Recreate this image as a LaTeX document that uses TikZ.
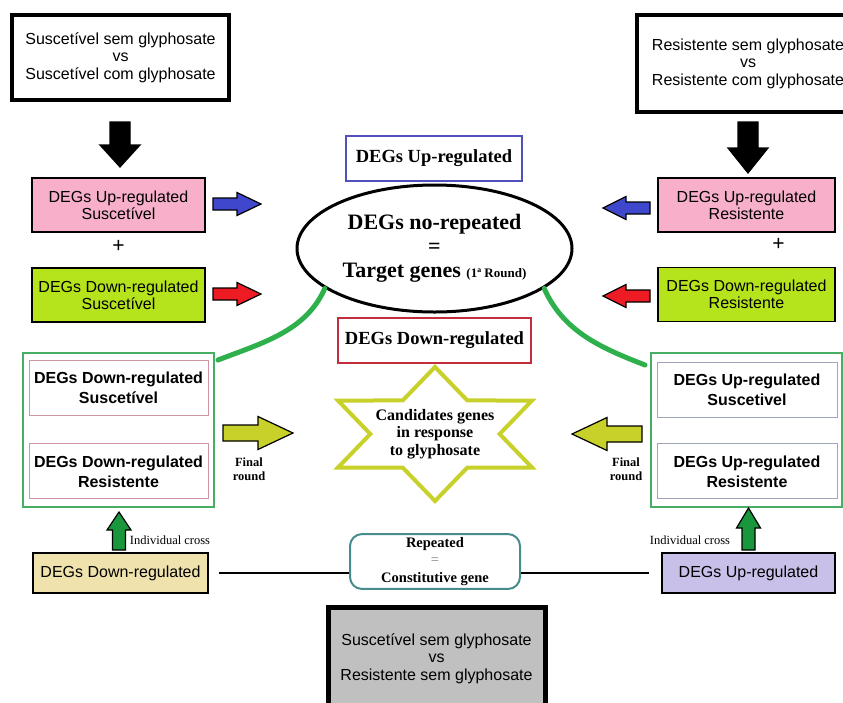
\documentclass[tikz,border=0pt]{standalone}
\usepackage{fontspec}
\setmainfont{Liberation Sans}
\newfontfamily\timesfont{Liberation Serif}
\usetikzlibrary{positioning,calc,shapes.geometric}
\definecolor{pinkfill}{RGB}{248,176,202}
\definecolor{limefill}{RGB}{181,228,29}
\definecolor{tanfill}{RGB}{239,226,172}
\definecolor{lilacfill}{RGB}{200,192,232}
\definecolor{grayfill}{RGB}{192,192,192}
\definecolor{arrowblue}{RGB}{63,72,204}
\definecolor{arrowred}{RGB}{237,28,36}
\definecolor{arrowolive}{RGB}{200,208,42}
\definecolor{arrowgreen}{RGB}{26,150,60}
\definecolor{curvegreen}{RGB}{46,176,76}
\definecolor{framegreen}{RGB}{70,175,100}
\definecolor{upblue}{RGB}{80,80,190}
\definecolor{downred}{RGB}{195,45,60}
\definecolor{tealline}{RGB}{70,140,140}
\definecolor{innerred}{RGB}{205,150,160}
\definecolor{innerblue}{RGB}{160,165,190}
% block arrow: style, tail, angle, shaft half, head half, head start, length
\newcommand{\blockarrow}[7]{%
  \filldraw[#1,shift={#2},rotate=#3] (0,-#4) -- (#6,-#4) -- (#6,-#5) -- (#7,0)
    -- (#6,#5) -- (#6,#4) -- (0,#4) -- cycle;}

\begin{document}
\begin{tikzpicture}[x=1pt,y=-1pt,
  cmpbox/.style={draw,line width=4pt,align=center,inner sep=0pt,font=\fontsize{16}{17.5}\selectfont},
  degbox/.style={draw,line width=1.6pt,align=center,inner sep=0pt,minimum width=173,minimum height=54,font=\fontsize{16}{16.8}\selectfont},
  inbox/.style={draw,line width=0.8pt,align=center,inner sep=0pt,minimum width=179,minimum height=55,font=\fontsize{16}{20}\selectfont\bfseries},
  selbox/.style={draw=framegreen,line width=2pt,minimum width=191,minimum height=154},
  tag/.style={draw,line width=1.5pt,inner sep=0pt,font=\fontsize{18.5}{20}\timesfont\bfseries},
  blockstyle/.style={draw=black,line width=1.2pt,line join=miter},
  note/.style={align=center,inner sep=0pt,font=\fontsize{12.5}{14}\timesfont},
  link/.style={line width=2pt},
  greencurve/.style={draw=curvegreen,line width=5pt,line cap=round}]
\useasboundingbox (0,0) rectangle (843,702);
\clip (0,0) rectangle (843,702);

% comparisons
\node[cmpbox,minimum width=217,minimum height=85] (topsus) at (120.5,57.5) {Suscetível sem glyphosate\\vs\\Suscetível com glyphosate};
\node[cmpbox,minimum width=222,minimum height=97] (topres) at (748,63.5) {Resistente sem glyphosate\\vs\\Resistente com glyphosate};
\node[cmpbox,line width=5pt,fill=grayfill,minimum width=217,minimum height=103] (cmpboth) at (436.5,658.5) {Suscetível sem glyphosate\\vs\\Resistente sem glyphosate};

% first round
\node[degbox,fill=pinkfill] (upsus) at (118.5,205) {DEGs Up-regulated\\Suscetível};
\node[degbox,fill=limefill] (downsus) at (118.5,295) {DEGs Down-regulated\\Suscetível};
\node[degbox,fill=pinkfill,minimum width=177] (upres) at (746.5,205) {DEGs Up-regulated\\Resistente};
\node[degbox,fill=limefill,minimum width=177] (downres) at (746.5,294.5) {DEGs Down-regulated\\Resistente};
\node[font=\fontsize{21}{21}\selectfont] (plussus) at ($(upsus.south)!0.4!(downsus.north)$) {+};
\node[font=\fontsize{21}{21}\selectfont,xshift=32] (plusres) at ($(upres.south)!0.35!(downres.north)$) {+};

\blockarrow{blockstyle,fill=black}{(120,122)}{-90}{10}{20}{23}{45}
\blockarrow{blockstyle,fill=black}{(748,122)}{-90}{10}{20}{26}{51}
\blockarrow{blockstyle,fill=arrowblue}{(213,204)}{0}{6}{11.5}{24}{48}
\blockarrow{blockstyle,fill=arrowred}{(213,294)}{0}{6}{11.5}{24}{48}
\blockarrow{blockstyle,fill=arrowblue}{(650,208)}{180}{6}{11.5}{24}{47}
\blockarrow{blockstyle,fill=arrowred}{(650,296)}{180}{6}{11.5}{24}{47}

% target genes
\node[tag,draw=upblue,minimum width=176,minimum height=45] (uplab) at (434,158.5) {DEGs Up-regulated};
\node[draw,ellipse,line width=3pt,minimum width=275,minimum height=127,inner sep=0pt,align=center,
  font=\fontsize{22}{24}\timesfont\bfseries] (ell) at (434.5,248.5)
  {DEGs no-repeated\\=\\Target genes {\fontsize{13}{15}\selectfont (1ª Round)}};
\node[tag,draw=downred,line width=2pt,minimum width=193,minimum height=45] (downlab) at (434.5,340.5) {DEGs Down-regulated};

% candidates
\draw[draw=arrowolive,line width=4pt,line join=miter,shift={(435,434)}] (90:112 and 67)
  \foreach \a in {150,210,...,450} {-- ({\a-30}:64.7 and 38.7) -- (\a:112 and 67)} -- cycle;
\node[align=center,inner sep=0pt,font=\fontsize{16}{17.5}\timesfont\bfseries] (cand) at (435,434) {Candidates genes\\in response\\to glyphosate};

% final round
\node[selbox] (selsus) at (118.5,430) {};
\node[inbox,draw=innerred] (insus1) at (118.5,387.5) {DEGs Down-regulated\\Suscetível};
\node[inbox,draw=innerred,below=28pt of insus1] (insus2) {DEGs Down-regulated\\Resistente};
\node[selbox] (selres) at (746.5,430) {};
\node[inbox,draw=innerblue,minimum width=180] (inres1) at (747,389.5) {DEGs Up-regulated\\Suscetivel};
\node[inbox,draw=innerblue,minimum width=180,below=26pt of inres1] (inres2) {DEGs Up-regulated\\Resistente};

\draw[greencurve] (ell.200) .. controls +(-19,43) and +(44,-17) .. ($(selsus.north east)+(3,8)$);
\draw[greencurve] (ell.-20) .. controls +(19,43) and +(-44,-17) .. ($(selres.north west)+(-5,13)$);

\blockarrow{blockstyle,fill=arrowolive}{(223,433)}{0}{8}{16.5}{35}{70}
\blockarrow{blockstyle,fill=arrowolive}{(642,434)}{180}{8}{16.5}{35}{70}
\node[note,font=\fontsize{12.5}{14}\timesfont\bfseries] (finsus) at (249,469) {Final\\round};
\node[note,font=\fontsize{12.5}{14}\timesfont\bfseries] (finres) at (626,469) {Final\\round};

% individual cross
\node[degbox,fill=tanfill,minimum width=175,minimum height=40] (tansus) at (120.5,573) {DEGs Down-regulated};
\node[degbox,fill=lilacfill,minimum width=173,minimum height=40] (lilres) at (748.5,573) {DEGs Up-regulated};
\blockarrow{blockstyle,fill=arrowgreen}{(119,550)}{90}{6.5}{12}{20}{38}
\blockarrow{blockstyle,fill=arrowgreen}{(748.5,550)}{90}{6.5}{12}{22}{42}
\node[note] (crosssus) at (170,540) {Individual cross};
\node[note] (crossres) at (690,540) {Individual cross};

% constitutive
\node[draw=tealline,line width=2pt,rounded corners=12,minimum width=170,minimum height=53,align=center,
  font=\fontsize{14.5}{17.5}\timesfont\bfseries] (rep) at (435,561.5) {Repeated\\{\color{gray}\mdseries =}\\Constitutive gene};
\draw[link,shorten <=10] (tansus.east) -- (tansus.east -| rep.west);
\draw[link,shorten >=12] (rep.east |- lilres.west) -- (lilres.west);
\end{tikzpicture}
\end{document}
